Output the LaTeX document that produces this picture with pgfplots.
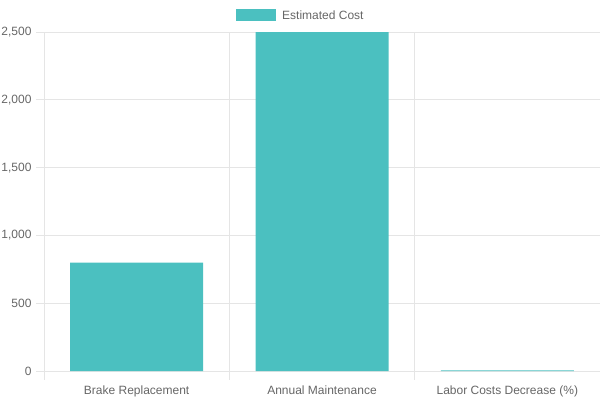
\documentclass[border=0pt]{standalone}
\usepackage{pgfplots}
\pgfplotsset{compat=1.18}
\usepackage{fontspec}
\setmainfont{Liberation Sans}
\definecolor{bar}{HTML}{4BC0C0}
\definecolor{grid}{HTML}{E5E5E5}
\definecolor{txt}{HTML}{666666}
\begin{document}
\begin{tikzpicture}[x=1pt,y=1pt]
\useasboundingbox (0,0) rectangle (600,400);
\begin{axis}[
  at={(44pt,29pt)}, anchor=south west,
  scale only axis, width=556pt, height=339pt,
  xmin=-0.5, xmax=2.5, ymin=0, ymax=2500,
  xtick={0,1,2},
  xticklabels={Brake Replacement,Annual Maintenance,Labor Costs Decrease (\%)},
  minor xtick={-0.5,0.5,1.5,2.5},
  ytick={0,500,1000,1500,2000,2500},
  yticklabels={0,500,{1,000},{1,500},{2,000},{2,500}},
  major x tick style={draw=none},
  minor x tick style={draw=grid, line width=0.8pt},
  minor tick length=9pt,
  ytick style={draw=grid, line width=0.8pt},
  major tick length=8pt,
  tick align=outside,
  xmajorgrids=false, xminorgrids=true, ymajorgrids=true,
  grid style={draw=grid, line width=0.8pt},
  minor grid style={draw=grid, line width=0.8pt},
  axis line style={draw=grid, line width=0.8pt},
  axis x line*=bottom, axis y line*=left,
  tick label style={font=\fontsize{12}{14}\selectfont, text=txt},
  xticklabel style={yshift=-3pt},
  yticklabel style={xshift=-1pt},
  ybar, bar width=133pt,
  enlargelimits=false,
  clip=false,
]
\addplot[fill=bar, draw=none] coordinates {(0,800) (1,2500) (2,5)};
\end{axis}
\fill[bar] (236,379) rectangle (276,391);
\node[anchor=west, inner sep=0pt, text=txt, font=\fontsize{12}{14}\selectfont] at (282,385) {Estimated Cost};
\end{tikzpicture}
\end{document}
